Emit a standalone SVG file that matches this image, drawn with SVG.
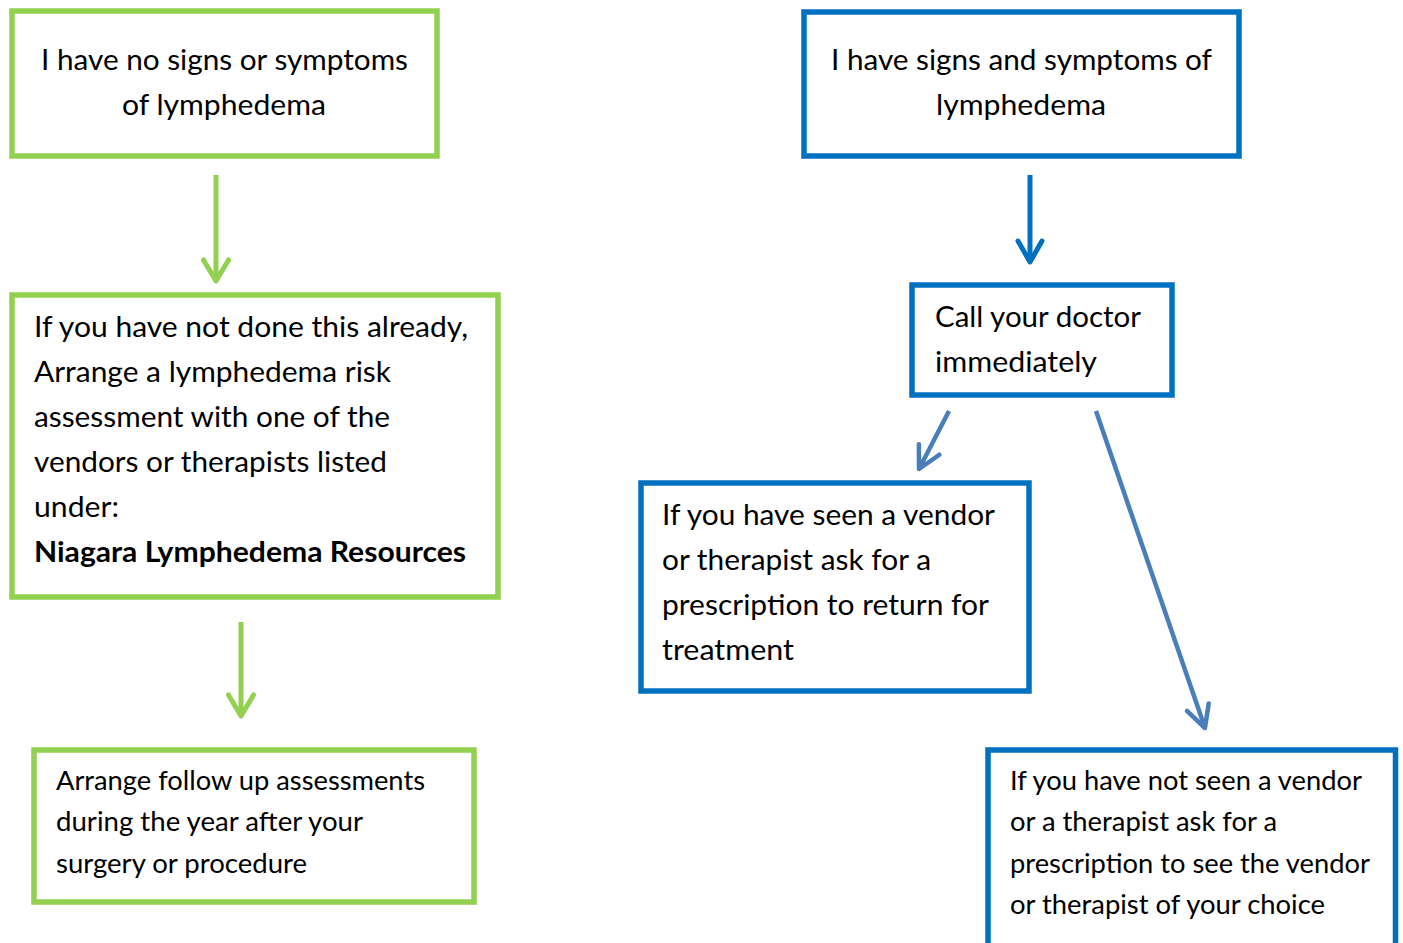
<svg xmlns="http://www.w3.org/2000/svg" width="1403" height="943" viewBox="0 0 1403 943">
<style>
.g{fill:#fff;stroke:#92D050;stroke-width:5.5}
.b{fill:#fff;stroke:#0070C0;stroke-width:5.5}
text{font-family:Lato,"Open Sans","Liberation Sans",sans-serif;fill:#000}
.t{font-size:29.3px}
.s{font-size:26.7px}
.bold{font-weight:bold}
.c{text-anchor:middle}
</style>
<defs>
<marker id="ag" markerUnits="userSpaceOnUse" orient="auto" overflow="visible" markerWidth="1" markerHeight="1" refX="0" refY="0"><path d="M-21,-12.5 L0,0 L-21,12.5" fill="none" stroke="#92D050" stroke-width="5" stroke-linecap="round" stroke-linejoin="round"/></marker>
<marker id="ab" markerUnits="userSpaceOnUse" orient="auto" overflow="visible" markerWidth="1" markerHeight="1" refX="0" refY="0"><path d="M-21,-12 L0,0 L-21,12" fill="none" stroke="#0070C0" stroke-width="5" stroke-linecap="round" stroke-linejoin="round"/></marker>
<marker id="al" markerUnits="userSpaceOnUse" orient="auto" overflow="visible" markerWidth="1" markerHeight="1" refX="0" refY="0"><path d="M-22,-11.5 L0,0 L-22,11.5" fill="none" stroke="#4A7EBB" stroke-width="4.5" stroke-linecap="round" stroke-linejoin="round"/></marker>
</defs>
<g id="connectors">
<line x1="216" y1="175" x2="216" y2="281" stroke="#92D050" stroke-width="5" marker-end="url(#ag)"/>
<line x1="241" y1="622" x2="241" y2="716" stroke="#92D050" stroke-width="5" marker-end="url(#ag)"/>
<line x1="1030" y1="175" x2="1030" y2="262" stroke="#0070C0" stroke-width="5" marker-end="url(#ab)"/>
<line x1="949" y1="411" x2="919" y2="469" stroke="#4A7EBB" stroke-width="4.5" marker-end="url(#al)"/>
<line x1="1096" y1="411" x2="1205" y2="728" stroke="#4A7EBB" stroke-width="4.5" marker-end="url(#al)"/>
</g>
<g id="n1">
<rect class="g" x="12" y="11" width="425" height="145"/>
<text class="t c" x="224.5" y="70" textLength="367" lengthAdjust="spacingAndGlyphs">I have no signs or symptoms</text>
<text class="t c" x="224" y="115" textLength="204" lengthAdjust="spacingAndGlyphs">of lymphedema</text>
</g>
<g id="n2">
<rect class="g" x="12" y="295" width="486" height="302"/>
<text class="t" x="34" y="337" textLength="434" lengthAdjust="spacingAndGlyphs">If you have not done this already,</text>
<text class="t" x="34" y="382" textLength="357" lengthAdjust="spacingAndGlyphs">Arrange a lymphedema risk</text>
<text class="t" x="34" y="427" textLength="356" lengthAdjust="spacingAndGlyphs">assessment with one of the</text>
<text class="t" x="34" y="472" textLength="353" lengthAdjust="spacingAndGlyphs">vendors or therapists listed</text>
<text class="t" x="34" y="517" textLength="85" lengthAdjust="spacingAndGlyphs">under:</text>
<text class="t bold" x="34" y="562" textLength="432" lengthAdjust="spacingAndGlyphs">Niagara Lymphedema Resources</text>
</g>
<g id="n3">
<rect class="g" x="34" y="750" width="440" height="152"/>
<text class="s" x="56" y="790" textLength="369" lengthAdjust="spacingAndGlyphs">Arrange follow up assessments</text>
<text class="s" x="56" y="831" textLength="307" lengthAdjust="spacingAndGlyphs">during the year after your</text>
<text class="s" x="56" y="873" textLength="251" lengthAdjust="spacingAndGlyphs">surgery or procedure</text>
</g>
<g id="n4">
<rect class="b" x="804" y="12" width="435" height="144"/>
<text class="t c" x="1021.5" y="70" textLength="381" lengthAdjust="spacingAndGlyphs">I have signs and symptoms of</text>
<text class="t c" x="1021" y="115" textLength="170" lengthAdjust="spacingAndGlyphs">lymphedema</text>
</g>
<g id="n5">
<rect class="b" x="912" y="285" width="260" height="110"/>
<text class="t" x="935" y="327" textLength="206" lengthAdjust="spacingAndGlyphs">Call your doctor</text>
<text class="t" x="935" y="372" textLength="162" lengthAdjust="spacingAndGlyphs">immediately</text>
</g>
<g id="n6">
<rect class="b" x="641" y="483" width="388" height="208"/>
<text class="t" x="662" y="525" textLength="333" lengthAdjust="spacingAndGlyphs">If you have seen a vendor</text>
<text class="t" x="662" y="570" textLength="269" lengthAdjust="spacingAndGlyphs">or therapist ask for a</text>
<text class="t" x="662" y="615" textLength="327" lengthAdjust="spacingAndGlyphs">prescription to return for</text>
<text class="t" x="662" y="660" textLength="132" lengthAdjust="spacingAndGlyphs">treatment</text>
</g>
<g id="n7">
<rect class="b" x="988" y="750" width="407.5" height="220"/>
<text class="s" x="1010" y="790" textLength="352" lengthAdjust="spacingAndGlyphs">If you have not seen a vendor</text>
<text class="s" x="1010" y="831" textLength="267" lengthAdjust="spacingAndGlyphs">or a therapist ask for a</text>
<text class="s" x="1010" y="873" textLength="360" lengthAdjust="spacingAndGlyphs">prescription to see the vendor</text>
<text class="s" x="1010" y="914" textLength="315" lengthAdjust="spacingAndGlyphs">or therapist of your choice</text>
</g>
</svg>
